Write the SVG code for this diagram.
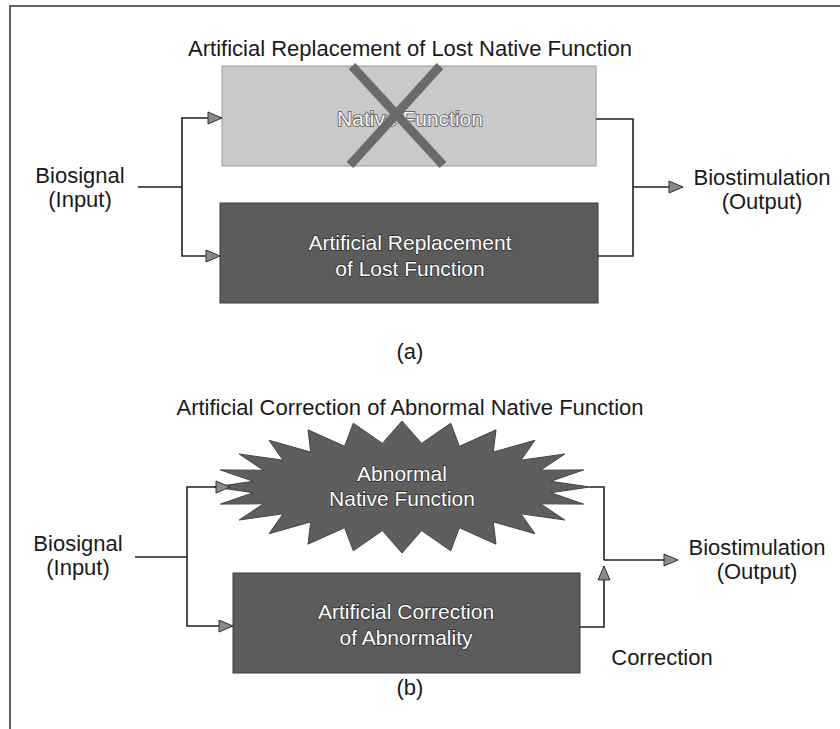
<svg xmlns="http://www.w3.org/2000/svg" width="840" height="729" viewBox="0 0 840 729">
<defs>
<style>
.lbl{font-family:"Liberation Sans",Arial,sans-serif;font-size:22px;fill:#1a1a1a;text-anchor:middle}
.wt{font-family:"Liberation Sans",Arial,sans-serif;font-size:21px;fill:#ffffff;stroke:#2a2a2a;stroke-width:1.4px;paint-order:stroke;text-anchor:middle}
.wl{font-family:"Liberation Sans",Arial,sans-serif;font-size:21px;fill:#f6f6f6;stroke:#555;stroke-width:1.6px;paint-order:stroke;text-anchor:middle}
.ln{fill:none;stroke:#222;stroke-width:1.6}
.dark{fill:#5c5c5c;stroke:#3a3a3a;stroke-width:1}
.light{fill:#c9c9c9;stroke:#999;stroke-width:1}
</style>
<marker id="ah" viewBox="0 0 16 14" refX="15" refY="7" markerWidth="16" markerHeight="14" markerUnits="userSpaceOnUse" orient="auto">
<path d="M1,1 L15,7 L1,13 Z" fill="#8a8a8a" stroke="#333" stroke-width="1"/>
</marker>
</defs>
<rect x="0" y="0" width="840" height="729" fill="#ffffff"/>
<g id="frame"><path d="M10,729 L10,6 L840,6" fill="none" stroke="#333" stroke-width="1.5"/></g>

<g id="title-a"><text class="lbl" x="410" y="56">Artificial Replacement of Lost Native Function</text></g>

<g id="native-function">
<rect class="light" x="222" y="66" width="374" height="100"/>
<text class="wl" x="410" y="126">Native Function</text>
<line x1="352" y1="66" x2="443" y2="165" stroke="#6a6a6a" stroke-width="9"/>
<line x1="440" y1="66" x2="350" y2="165" stroke="#6a6a6a" stroke-width="9"/>
</g>

<g id="artificial-replacement">
<rect class="dark" x="220" y="203" width="378" height="100"/>
<text class="wt" x="410" y="250">Artificial Replacement</text>
<text class="wt" x="410" y="276">of Lost Function</text>
</g>

<g id="input-a"><text class="lbl" x="80" y="183">Biosignal</text><text class="lbl" x="80" y="207">(Input)</text></g>
<g id="output-a"><text class="lbl" x="762" y="185">Biostimulation</text><text class="lbl" x="762" y="209">(Output)</text></g>
<g id="label-a"><text class="lbl" x="410" y="359">(a)</text></g>

<g id="title-b"><text class="lbl" x="410" y="415">Artificial Correction of Abnormal Native Function</text></g>

<g id="abnormal-native-function">
<polygon fill="#5e5e5e" stroke="#444" stroke-width="1" points="590,487 550.7,481.3 583.6,469.9 540.6,470.2 564.8,454 521,460.2 534.9,440.3 493.3,452.1 496,429.8 459.4,446.3 450.7,423.2 421.6,443.4 402,421 382.4,443.4 353.3,423.2 344.6,446.3 308,429.8 310.7,452.1 269.1,440.3 283,460.2 239.2,454 263.4,470.2 220.4,469.9 253.3,481.3 214,487 253.3,492.7 220.4,504.1 263.4,503.8 239.2,520 283,513.8 269.1,533.7 310.7,521.9 308,544.2 344.6,527.7 353.3,550.8 382.4,530.6 402,553 421.6,530.6 450.7,550.8 459.4,527.7 496,544.2 493.3,521.9 534.9,533.7 521,513.8 564.8,520 540.6,503.8 583.6,504.1 550.7,492.7"/>
<text class="wt" x="402" y="481">Abnormal</text>
<text class="wt" x="402" y="506">Native Function</text>
</g>

<g id="artificial-correction">
<rect class="dark" x="233" y="573" width="347" height="100"/>
<text class="wt" x="406" y="619">Artificial Correction</text>
<text class="wt" x="406" y="645">of Abnormality</text>
</g>

<g id="input-b"><text class="lbl" x="78" y="551">Biosignal</text><text class="lbl" x="78" y="575">(Input)</text></g>
<g id="output-b"><text class="lbl" x="757" y="555">Biostimulation</text><text class="lbl" x="757" y="579">(Output)</text></g>
<g id="correction-label"><text class="lbl" x="662" y="665">Correction</text></g>
<g id="label-b"><text class="lbl" x="410" y="695">(b)</text></g>

<g id="connectors">
<path class="ln" d="M138,187 L182,187"/>
<path class="ln" d="M182,187 L182,118 L222,118" marker-end="url(#ah)"/>
<path class="ln" d="M182,187 L182,256 L220,256" marker-end="url(#ah)"/>
<path class="ln" d="M596,119 L633,119 L633,256 L598,256"/>
<path class="ln" d="M633,187 L683,187" marker-end="url(#ah)"/>
<path class="ln" d="M135,557 L187,557"/>
<path class="ln" d="M187,557 L187,487 L230,487" marker-end="url(#ah)"/>
<path class="ln" d="M187,557 L187,626 L233,626" marker-end="url(#ah)"/>
<path class="ln" d="M590,487 L604,487 L604,560"/>
<path class="ln" d="M580,627 L604,627 L604,566" marker-end="url(#ah)"/>
<path class="ln" d="M604,560 L678,560" marker-end="url(#ah)"/>
</g>
</svg>
